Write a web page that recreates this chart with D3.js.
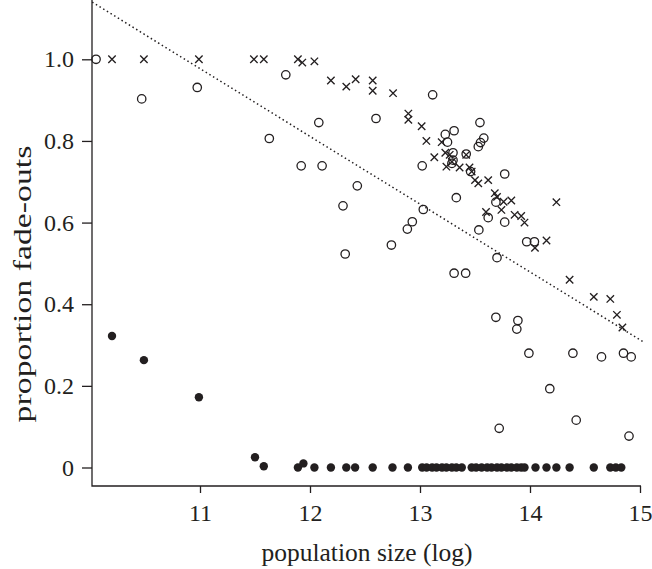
<!DOCTYPE html>
<html>
<head>
<meta charset="utf-8">
<script src="https://cdn.jsdelivr.net/npm/d3@7"></script>
<style>
  html, body { margin: 0; padding: 0; background: #fff; }
  svg { display: block; }
  text { font-family: "Liberation Serif", "Times New Roman", serif; fill: #231f20; }
</style>
</head>
<body>
<svg id="chart" width="652" height="569"></svg>
<script>
// ---- data ----
const crossX = [10.20, 10.49, 10.99, 11.49, 11.58, 11.89, 11.93, 12.04, 12.19, 12.33, 12.415, 12.57, 12.57, 12.755,
  12.894, 12.894, 13.015, 13.058, 13.197, 13.13, 13.23, 13.24, 13.29, 13.27, 13.36, 13.42, 13.45, 13.47, 13.50, 13.53,
  13.62, 13.68, 13.70, 13.60, 13.74, 13.76, 13.83, 13.86, 13.92, 13.95, 14.045, 14.15, 14.24, 14.36, 14.58, 14.73, 14.79, 14.84];
const crossY = [1.0, 1.0, 1.0, 1.0, 1.0, 1.0, 0.992, 0.995, 0.948, 0.933, 0.951, 0.948, 0.923, 0.917,
  0.867, 0.852, 0.836, 0.800, 0.797, 0.760, 0.771, 0.737, 0.749, 0.766, 0.735, 0.766, 0.735, 0.725, 0.704, 0.696,
  0.704, 0.672, 0.663, 0.626, 0.631, 0.651, 0.654, 0.619, 0.616, 0.600, 0.538, 0.556, 0.650, 0.460, 0.418, 0.413, 0.374, 0.343];

const openX = [10.055, 10.47, 10.975, 11.63, 11.78, 11.92, 12.08, 12.11, 12.30, 12.32, 12.43, 12.60, 12.74, 12.885, 12.93,
  13.02, 13.03, 13.115, 13.23, 13.25, 13.29, 13.30, 13.30, 13.31, 13.31, 13.33, 13.415, 13.42, 13.46, 13.53, 13.535,
  13.545, 13.55, 13.58, 13.62, 13.69, 13.69, 13.70, 13.72, 13.77, 13.77, 13.88, 13.89, 13.97, 13.99, 14.04, 14.18,
  14.39, 14.42, 14.65, 14.85, 14.90, 14.92];
const openY = [1.0, 0.903, 0.931, 0.806, 0.962, 0.739, 0.845, 0.739, 0.641, 0.523, 0.690, 0.855, 0.545, 0.584, 0.602,
  0.739, 0.632, 0.913, 0.816, 0.797, 0.745, 0.771, 0.753, 0.825, 0.476, 0.661, 0.476, 0.768, 0.725, 0.786, 0.582,
  0.845, 0.796, 0.807, 0.612, 0.650, 0.368, 0.514, 0.096, 0.719, 0.601, 0.339, 0.360, 0.553, 0.280, 0.553, 0.193,
  0.280, 0.116, 0.271, 0.280, 0.077, 0.271];

const filledX = [10.20, 10.49, 10.99, 11.50, 11.58, 11.89, 11.94, 12.04, 12.19, 12.33, 12.41, 12.57, 12.75, 12.89,
  13.02, 13.06, 13.11, 13.15, 13.20, 13.24, 13.29, 13.33, 13.38, 13.47, 13.51, 13.56, 13.61, 13.65, 13.70, 13.74,
  13.79, 13.83, 13.88, 13.92, 13.95, 14.05, 14.15, 14.24, 14.36, 14.58, 14.73, 14.78, 14.83];
const filledY = [0.322, 0.263, 0.172, 0.025, 0.003, 0.0, 0.010, 0, 0, 0, 0, 0, 0, 0,
  0, 0, 0, 0, 0, 0, 0, 0, 0, 0, 0, 0, 0, 0, 0, 0,
  0, 0, 0, 0, 0, 0, 0, 0, 0, 0, 0, 0, 0];

const fitX = [10.02, 15.03];
const fitY = [1.140, 0.308];

const xTicks = [11, 12, 13, 14, 15];
const yTicks = [0, 0.2, 0.4, 0.6, 0.8, 1.0];
const yTickLabels = ["0", "0.2", "0.4", "0.6", "0.8", "1.0"];
const xTitle = "population size (log)";
const yTitle = "proportion fade-outs";

// ---- chart ----
const ink = "#231f20";
const svg = d3.select("#chart");
const x = d3.scaleLinear().domain([10, 15]).range([90, 640]);
const y = d3.scaleLinear().domain([0, 1]).range([467.5, 59.3]);
const axisX0 = 92, axisY0 = 486;

// axes lines (L-shape)
svg.append("path")
  .attr("d", `M${axisX0},0V${axisY0}H${x(15) + 1}`)
  .attr("fill", "none").attr("stroke", ink).attr("stroke-width", 1.3);

const yAxis = d3.axisLeft(y).tickValues(yTicks)
  .tickFormat((d, i) => yTickLabels[i]).tickSize(10).tickPadding(8).tickSizeOuter(0);
const gy = svg.append("g").attr("transform", `translate(${axisX0},0)`).call(yAxis);
gy.select(".domain").remove();
gy.selectAll("line").attr("stroke", ink).attr("stroke-width", 1.3);
gy.selectAll("text").attr("font-size", 24).attr("font-family", "Liberation Serif").attr("fill", ink);

const xAxis = d3.axisBottom(x).tickValues(xTicks).tickFormat(d3.format("d")).tickSize(7).tickSizeOuter(0);
const gx = svg.append("g").attr("transform", `translate(0,${axisY0})`).call(xAxis);
gx.select(".domain").remove();
gx.selectAll("line").attr("stroke", ink).attr("stroke-width", 1.3);
gx.selectAll("text").attr("font-size", 24).attr("font-family", "Liberation Serif").attr("fill", ink)
  .attr("y", 35).attr("dy", 0);

// fit line
svg.append("line")
  .attr("x1", x(fitX[0])).attr("y1", y(fitY[0]))
  .attr("x2", x(fitX[1])).attr("y2", y(fitY[1]))
  .attr("stroke", ink).attr("stroke-width", 1.5).attr("stroke-dasharray", "1.5,2.8");

// crosses
const cs = 3.7;
svg.append("g").selectAll("path").data(crossX.map((d, i) => [d, crossY[i]])).join("path")
  .attr("d", d => {
    const cx = x(d[0]), cy = y(d[1]);
    return `M${cx - cs},${cy - cs}L${cx + cs},${cy + cs}M${cx - cs},${cy + cs}L${cx + cs},${cy - cs}`;
  })
  .attr("stroke", ink).attr("stroke-width", 1.35).attr("fill", "none");

// open circles
svg.append("g").selectAll("circle").data(openX.map((d, i) => [d, openY[i]])).join("circle")
  .attr("cx", d => x(d[0])).attr("cy", d => y(d[1])).attr("r", 4.2)
  .attr("fill", "none").attr("stroke", ink).attr("stroke-width", 1.3);

// filled circles
svg.append("g").selectAll("circle").data(filledX.map((d, i) => [d, filledY[i]])).join("circle")
  .attr("cx", d => x(d[0])).attr("cy", d => y(d[1])).attr("r", 4.2)
  .attr("fill", ink);

// titles
svg.append("text").attr("x", 367).attr("y", 561).attr("text-anchor", "middle")
  .attr("font-size", 25.5).text(xTitle);
svg.append("text").attr("transform", "translate(31,284) rotate(-90) scale(1.3,1)").attr("text-anchor", "middle")
  .attr("font-size", 26).text(yTitle);
</script>
</body>
</html>
